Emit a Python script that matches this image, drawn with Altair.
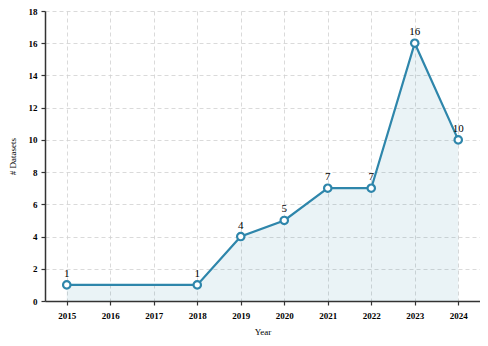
import altair as alt
import pandas as pd

years = [2015, 2018, 2019, 2020, 2021, 2022, 2023, 2024]
counts = [1, 1, 4, 5, 7, 7, 16, 10]
tick_years = list(range(2015, 2025))

df = pd.DataFrame({"Year": years, "Count": counts})

COLOR = "#2e86ab"
FONT = "Liberation Serif"

x = alt.X("Year:Q", scale=alt.Scale(domain=[2014.5, 2024.5], nice=False, zero=False),
          axis=alt.Axis(values=tick_years, format="d", title="Year"))
y = alt.Y("Count:Q", scale=alt.Scale(domain=[0, 18], nice=False),
          axis=alt.Axis(values=list(range(0, 19, 2)), title="# Datasets"))

base = alt.Chart(df).encode(x=x, y=y)

area = base.mark_area(color=COLOR, opacity=0.1)
line = base.mark_line(color=COLOR, strokeWidth=2.2)
points = base.mark_point(shape="circle", size=55, filled=True, fill="white",
                         stroke=COLOR, strokeWidth=2.2, opacity=1)
labels = base.mark_text(dy=-11, font=FONT, fontSize=11, color="black").encode(text="Count:Q")

chart = (area + line + points + labels).properties(
    width=435, height=290,
    autosize=alt.AutoSizeParams(type="none"),
    padding={"left": 37, "top": 3, "right": 0, "bottom": 40},
).configure_view(stroke=None).configure_axis(
    grid=True, gridColor="#d0d0d0", gridDash=[4, 3], gridWidth=0.8,
    domainColor="#333333", domainWidth=1.5, tickColor="#333333", tickSize=4,
    tickWidth=1.2,
    labelFont=FONT, labelFontSize=9, labelFontWeight="bold", labelColor="black",
    titleFont=FONT, titleFontSize=9, titleFontWeight="normal", titleColor="black",
).configure_axisX(titlePadding=7, labelPadding=6).configure_axisY(titlePadding=11, labelPadding=4)

chart.save("out.html", embed_options={"renderer": "svg", "actions": False})
